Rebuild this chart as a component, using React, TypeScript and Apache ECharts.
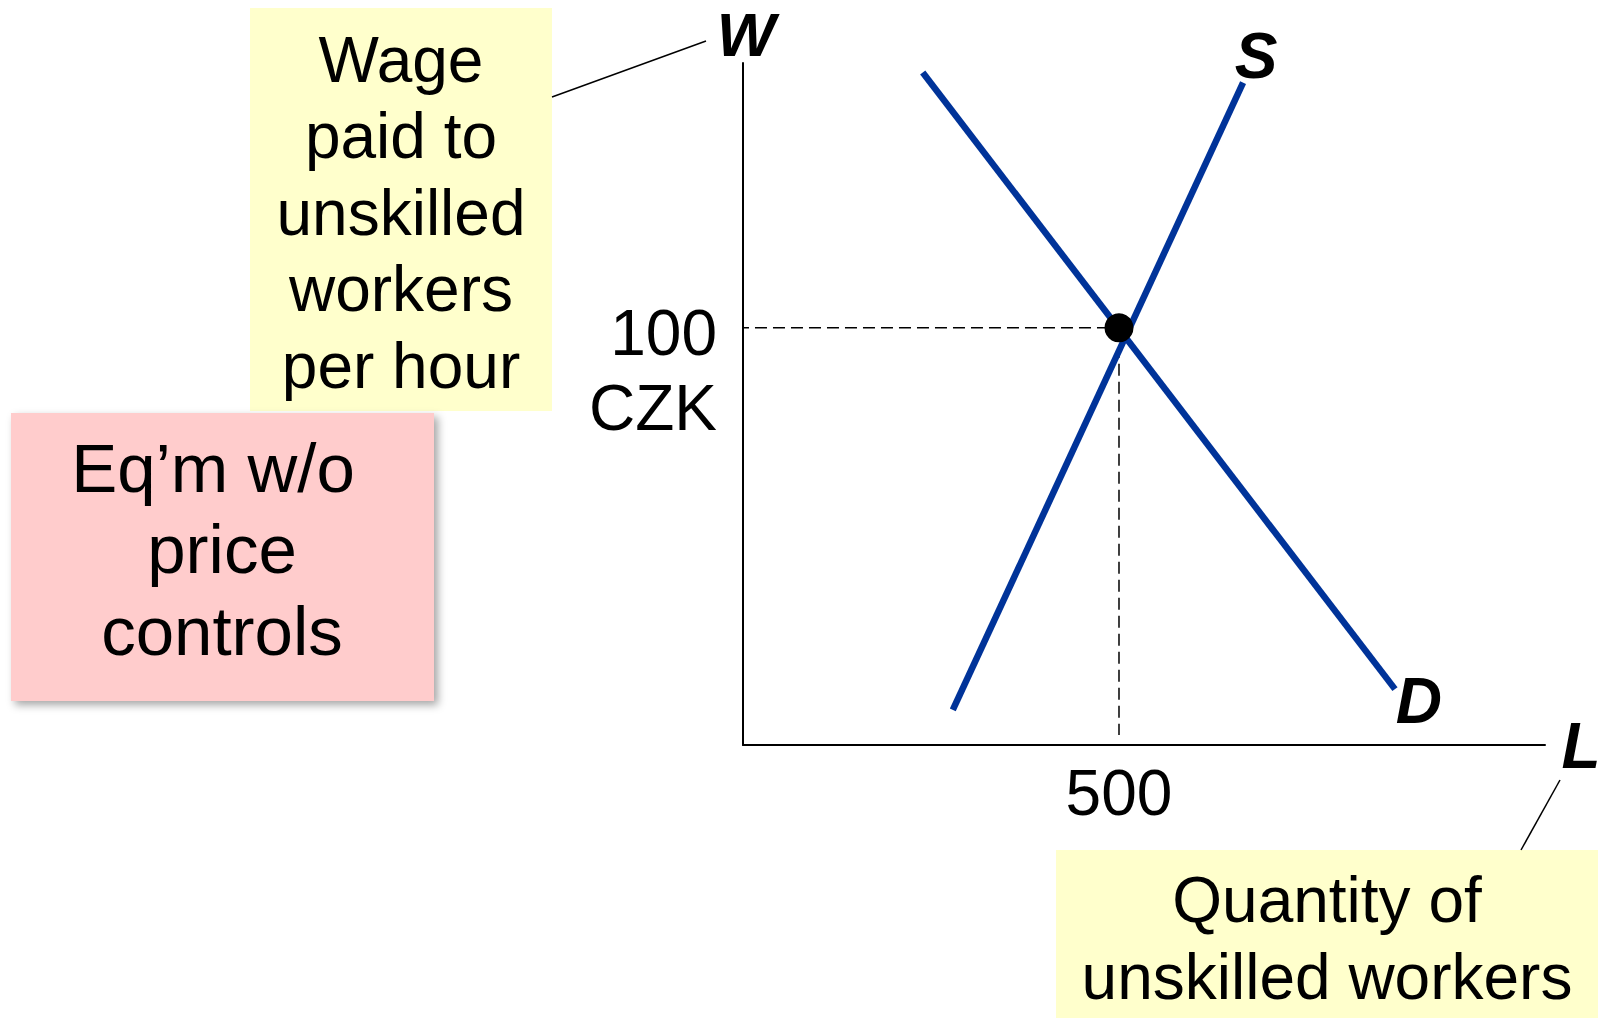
import React, { useEffect, useRef } from 'react';
import * as echarts from 'echarts';

// ---- data ----
const supplyQ = [279, 665];
const supplyW = [8.4, 158.8];
const demandQ = [239, 867];
const demandW = [161.2, 13.4];
const eqQ = 500;
const eqW = 100;
const xMax = 1066.5;
const yMax = 163.5;
const guideStartQ = -8;
const guideEndW = 2.4;
const xTickLabel = '500';
const yTickLabel = ['100', 'CZK'];
const yAxisName = 'W';
const xAxisName = 'L';
const supplyName = 'S';
const demandName = 'D';
const wageNote = ['Wage', 'paid to', 'unskilled', 'workers', 'per hour'];
const eqNote = ['Eq\u2019m w/o', 'price', 'controls'];
const qtyNote = ['Quantity of', 'unskilled workers'];

const FONT = '"Liberation Sans", Arial, Helvetica, sans-serif';
const BLUE = '#003399';
const YELLOW = '#FFFFCC';
const PINK = '#FFCCCC';

function txt(id: string, text: string, x: number, y: number, size: number, extra: any = {}) {
  return {
    type: 'text',
    id,
    x,
    y,
    z: 10,
    silent: true,
    style: {
      text,
      fill: '#000',
      fontSize: size,
      fontFamily: FONT,
      align: 'center',
      verticalAlign: 'middle',
      textAlign: 'center',
      textVerticalAlign: 'middle',
      ...extra,
    },
  };
}

export default function App() {
  const ref = useRef<HTMLDivElement>(null);

  useEffect(() => {
    const el = ref.current;
    if (!el) return;
    const chart = echarts.init(el, null, { renderer: 'svg' });

    const supplyData = supplyQ.map((q, i) => [q, supplyW[i]]);
    const demandData = demandQ.map((q, i) => [q, demandW[i]]);

    const option: any = {
      animation: false,
      backgroundColor: '#ffffff',
      grid: {
        left: 743,
        top: 63,
        width: 802,
        height: 682,
        containLabel: false,
        outerBoundsMode: 'none',
      },
      xAxis: {
        type: 'value',
        min: 0,
        max: xMax,
        interval: eqQ,
        axisLine: { show: true, onZero: false, lineStyle: { color: '#000', width: 2 } },
        axisTick: { show: false },
        splitLine: { show: false },
        axisLabel: {
          show: true,
          margin: 16,
          fontSize: 64,
          lineHeight: 64,
          fontFamily: FONT,
          color: '#000',
          formatter: (v: number) => (v === eqQ ? xTickLabel : ''),
        },
      },
      yAxis: {
        type: 'value',
        min: 0,
        max: yMax,
        interval: eqW,
        axisLine: { show: true, onZero: false, lineStyle: { color: '#000', width: 2 } },
        axisTick: { show: false },
        splitLine: { show: false },
        axisLabel: { show: false },
      },
      series: [
        {
          name: 'guideH',
          type: 'line',
          data: [[guideStartQ, eqW], [eqQ, eqW]],
          symbol: 'none',
          clip: false,
          z: 1,
          silent: true,
          lineStyle: { color: '#000', width: 1.5, type: [12, 6] },
        },
        {
          name: 'guideV',
          type: 'line',
          data: [[eqQ, eqW], [eqQ, guideEndW]],
          symbol: 'none',
          clip: false,
          z: 1,
          silent: true,
          lineStyle: { color: '#000', width: 1.5, type: [12, 6] },
        },
        {
          name: demandName,
          type: 'line',
          data: demandData,
          symbol: 'none',
          clip: false,
          z: 3,
          silent: true,
          lineStyle: { color: BLUE, width: 6.5, cap: 'butt' },
        },
        {
          name: supplyName,
          type: 'line',
          data: supplyData,
          symbol: 'none',
          clip: false,
          z: 3,
          silent: true,
          lineStyle: { color: BLUE, width: 6.5, cap: 'butt' },
        },
        {
          name: 'equilibrium',
          type: 'scatter',
          data: [[eqQ, eqW]],
          symbol: 'circle',
          symbolSize: 29,
          z: 5,
          silent: true,
          itemStyle: { color: '#000', opacity: 1 },
        },
      ],
    };

    chart.setOption(option);

    const px = (p: number[]) => chart.convertToPixel({ gridIndex: 0 }, p) as number[];
    const sTop = px(supplyData[supplyData.length - 1]);
    const dEnd = px(demandData[demandData.length - 1]);
    const yTop = px([0, yMax]);
    const xEnd = px([xMax, 0]);
    const yTick = px([0, eqW]);

    const lblStyle = { fontWeight: 'bold', fontStyle: 'italic' };
    const rightStyle = { align: 'right', textAlign: 'right' };

    const elements: any[] = [
      // note boxes
      {
        type: 'rect', id: 'boxWage', z: 1, silent: true,
        shape: { x: 250, y: 8, width: 302, height: 403 },
        style: { fill: YELLOW },
      },
      {
        type: 'rect', id: 'boxEq', z: 1, silent: true,
        shape: { x: 11, y: 413, width: 423, height: 288 },
        style: {
          fill: PINK,
          shadowBlur: 8,
          shadowOffsetX: 4,
          shadowOffsetY: 4,
          shadowColor: 'rgba(0,0,0,0.35)',
        },
      },
      {
        type: 'rect', id: 'boxQty', z: 1, silent: true,
        shape: { x: 1056, y: 850, width: 542, height: 168 },
        style: { fill: YELLOW },
      },
      // leader lines
      {
        type: 'line', id: 'leadW', z: 2, silent: true,
        shape: { x1: 552, y1: 97, x2: 706, y2: 41 },
        style: { stroke: '#000', lineWidth: 1.5 },
      },
      {
        type: 'line', id: 'leadL', z: 2, silent: true,
        shape: { x1: 1560, y1: 780, x2: 1521, y2: 850 },
        style: { stroke: '#000', lineWidth: 1.5 },
      },
      // axis names and curve labels
      txt('nameW', yAxisName, yTop[0] + 3, yTop[1] - 28.5, 62, { ...lblStyle, lineHeight: 54 }),
      txt('nameL', xAxisName, xEnd[0] + 36, xEnd[1] + 1, 64, lblStyle),
      txt('lblS', supplyName, sTop[0] + 13, sTop[1] - 27, 64, lblStyle),
      txt('lblD', demandName, dEnd[0] + 24, dEnd[1] + 12, 64, lblStyle),
      // y tick label
      txt('tick100', yTickLabel[0], yTick[0] - 26, yTick[1] + 5, 64, rightStyle),
      txt('tickCZK', yTickLabel[1], yTick[0] - 26, yTick[1] + 80, 64, rightStyle),
    ];

    const wageCenters = [59.5, 136, 212.5, 289, 365.5];
    wageNote.forEach((t, i) => elements.push(txt('wage' + i, t, 401, wageCenters[i], 64)));

    const eqCenters = [468, 549, 631];
    const eqX = [213, 222, 222];
    eqNote.forEach((t, i) => elements.push(txt('eq' + i, t, eqX[i], eqCenters[i], 69)));

    const qtyCenters = [899.8, 976.8];
    qtyNote.forEach((t, i) => elements.push(txt('qty' + i, t, 1327, qtyCenters[i], 64)));

    chart.setOption({ graphic: { elements } });

    return () => {
      chart.dispose();
    };
  }, []);

  return (
    <div
      ref={ref}
      style={{ position: 'fixed', left: 0, top: 0, width: 1602, height: 1018, background: '#fff' }}
    />
  );
}
